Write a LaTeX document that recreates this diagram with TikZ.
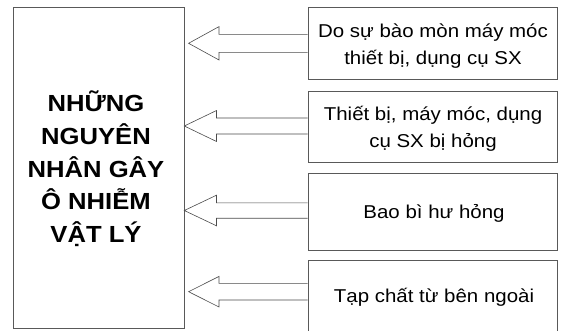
\documentclass[tikz,border=0pt]{standalone}
\usepackage{fontspec}
\setmainfont{Liberation Sans}[FakeStretch=1.1]
\usetikzlibrary{calc}
\tikzset{
  frame/.style={draw=black!65, line width=0.9pt},
  boxtxt/.style={align=center, font=\fontsize{18.6}{26.7}\selectfont, inner sep=0pt},
  maintxt/.style={align=center, font=\bfseries\fontsize{23.3}{32.7}\selectfont, inner sep=0pt},
  blk/.style={draw=black!70, line width=0.6pt, fill=white, line join=miter},
}
\begin{document}
\begin{tikzpicture}[x=1pt,y=-1pt]
\clip (0,0) rectangle (561,330);
\fill[white] (0,0) rectangle (561,330);
% left box
\node[frame, minimum width=170.7pt, minimum height=321pt, inner sep=0pt] (L) at (98.65,167.5) {};
\node[maintxt] (Lt) at (96,169) {NHỮNG\\NGUYÊN\\NHÂN GÂY\\Ô NHIỄM\\VẬT LÝ};
% right boxes
\node[frame, minimum width=249pt, minimum height=72pt, inner sep=0pt] (b1) at (432.5,43.3) {};
\node[frame, minimum width=249pt, minimum height=71pt, inner sep=0pt] (b2) at (432.5,126.5) {};
\node[frame, minimum width=249pt, minimum height=77pt, inner sep=0pt] (b3) at (432.5,211.5) {};
\node[frame, minimum width=249pt, minimum height=80pt, inner sep=0pt] (b4) at (432.5,300) {};
\node[boxtxt] (t1) at (433,46) {Do sự bào mòn máy móc\\thiết bị, dụng cụ SX};
\node[boxtxt] (t2) at (433,128.5) {Thiết bị, máy móc, dụng\\cụ SX bị hỏng};
\node[boxtxt] (t3) at (434,213.5) {Bao bì hư hỏng};
\node[boxtxt] (t4) at (434,297) {Tạp chất từ bên ngoài};
% arrow tips
\coordinate (p1) at (188.6,43.3);
\coordinate (p2) at (184.3,126);
\coordinate (p3) at (184.3,210.5);
\coordinate (p4) at (188.6,291.7);
% block arrows
\draw[blk] let \p1=(b1.west), \p2=(p1) in
  (\x1,\y2+9pt) -- (\x2+30.4pt,\y2+9pt) -- (\x2+30.4pt,\y2+16.7pt) -- (\x2,\y2)
  -- (\x2+30.4pt,\y2-16.7pt) -- (\x2+30.4pt,\y2-9pt) -- (\x1,\y2-9pt);
\draw[blk] let \p1=(b2.west), \p2=(p2) in
  (\x1,\y2+8pt) -- (\x2+32.2pt,\y2+8pt) -- (\x2+32.2pt,\y2+15.5pt) -- (\x2,\y2)
  -- (\x2+32.2pt,\y2-15.5pt) -- (\x2+32.2pt,\y2-8pt) -- (\x1,\y2-8pt);
\draw[blk] let \p1=(b3.west), \p2=(p3) in
  (\x1,\y2+7.7pt) -- (\x2+32.2pt,\y2+7.7pt) -- (\x2+32.2pt,\y2+15.3pt) -- (\x2,\y2)
  -- (\x2+32.2pt,\y2-15.3pt) -- (\x2+32.2pt,\y2-7.7pt) -- (\x1,\y2-7.7pt);
\draw[blk] let \p1=(b4.west), \p2=(p4) in
  (\x1,\y2+8.3pt) -- (\x2+30.4pt,\y2+8.3pt) -- (\x2+30.4pt,\y2+15.3pt) -- (\x2,\y2)
  -- (\x2+30.4pt,\y2-15.3pt) -- (\x2+30.4pt,\y2-8.3pt) -- (\x1,\y2-8.3pt);
\end{tikzpicture}
\end{document}
